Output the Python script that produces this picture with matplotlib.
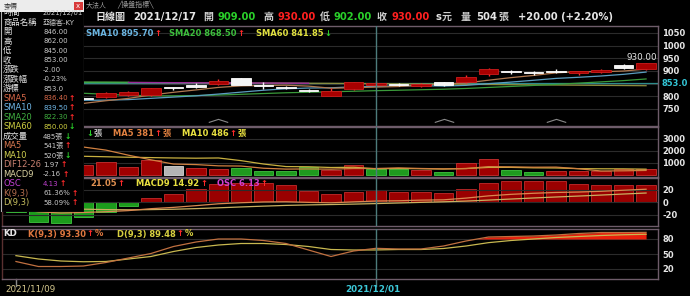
import numpy as np
import matplotlib
matplotlib.use('Agg')
import matplotlib.pyplot as plt
from matplotlib.patches import Rectangle

plt.rcParams['font.family'] = ['DejaVu Sans', 'Noto Sans CJK TC']

# 亞德客-KY 日線 2021/11/09 ~ 2021/12/17
dates = ['2021/11/09', '2021/11/10', '2021/11/11', '2021/11/12', '2021/11/15', '2021/11/16',
         '2021/11/17', '2021/11/18', '2021/11/19', '2021/11/22', '2021/11/23', '2021/11/24',
         '2021/11/25', '2021/11/26', '2021/11/29', '2021/11/30', '2021/12/01', '2021/12/02',
         '2021/12/03', '2021/12/06', '2021/12/07', '2021/12/08', '2021/12/09', '2021/12/10',
         '2021/12/13', '2021/12/14', '2021/12/15', '2021/12/16', '2021/12/17']
opens = [778, 772, 765, 795, 799, 805, 805, 835, 846, 849, 871, 846, 838, 826, 803,
         828, 846, 850, 842, 856, 856, 887, 901, 897, 901, 891, 896, 924, 909]
highs = [782, 776, 780, 798, 818, 820, 834, 838, 852, 867, 873, 858, 841, 829, 832,
         857, 862, 853, 853, 858, 884, 910, 904, 900, 907, 901, 906, 929, 930]
lows = [765, 760, 762, 786, 795, 803, 803, 824, 832, 845, 844, 830, 829, 816, 802,
        826, 845, 840, 838, 840, 854, 881, 888, 883, 893, 883, 893, 907, 902]
closes = [770, 765, 775, 791, 812, 816, 832, 832, 838, 862, 846, 840, 833, 820, 821,
          855, 853, 844, 848, 844, 875, 907, 895, 891, 895, 899, 904, 910, 930]

sma5 = [780, 775, 772, 772, 782.6, 791.8, 805.2, 815.8, 825.2, 835.2, 841.2, 842.8, 843.8,
        840.2, 832.0, 833.8, 836.4, 838.6, 844.2, 848.8, 852.8, 863.6, 873.8, 882.4, 892.6,
        897.4, 896.8, 899.8, 907.6]
sma10 = [795, 790, 786, 784, 785, 787, 792, 797, 802, 808.9, 816.5, 824.0, 829.8, 832.7,
         833.6, 837.5, 839.5, 841.2, 842.2, 840.4, 843.3, 850.0, 856.2, 863.3, 870.7, 875.1,
         880.2, 886.8, 895.7]
sma20 = [820, 818, 815, 812, 808, 804, 802, 802, 803, 805, 808, 811, 814, 816, 818, 820,
         822.3, 824, 826, 828, 831, 835, 839, 843, 847, 852, 857, 862, 868.5]
sma60 = [856, 855.8, 855.5, 855.2, 855, 854.6, 854.2, 853.8, 853.4, 853, 852.7, 852.4, 852,
         851.6, 851.2, 850.7, 850.0, 849.3, 848.6, 848, 847.3, 846.6, 845.9, 845.2, 844.5,
         843.8, 843.2, 842.5, 841.85]
signal_idx = [9, 19, 24]

volume = [2800, 3200, 2500, 810, 1060, 680, 1280, 730, 590, 540, 590, 370, 370, 650, 450,
          870, 485, 510, 400, 290, 1000, 1300, 400, 260, 330, 320, 360, 470, 504]
vol_ma5 = [2600, 2750, 2800, 2330, 2074, 1650, 1266, 912, 868, 764, 746, 564, 492, 504, 486,
           542, 541, 593, 543, 511, 537, 700, 678, 650, 658, 522, 334, 348, 381]
vol_ma10 = [1700, 1650, 1600, 1560, 1520, 1480, 1450, 1420, 1400, 1419, 1198, 915, 702, 686,
            625, 644, 520, 543, 524, 499, 540, 633, 636, 597, 585, 530, 517, 513, 486]

osc = [-3.4, -6.8, -7.2, -5.3, -3.4, -1.3, 1.5, 3.0, 4.8, 6.5, 6.8, 6.8, 5.9, 4.1, 2.8, 3.6,
       4.13, 3.6, 3.6, 3.2, 4.8, 6.8, 7.6, 7.6, 7.3, 6.5, 6.1, 6.1, 6.13]
dif = [-10.8, -15.5, -17.4, -16.5, -15.3, -13.5, -10.4, -8.3, -5.5, -2.5, -0.8, 0.5, 0.8,
       -0.2, -0.9, 0.6, 1.97, 2.4, 3.4, 3.9, 6.7, 10.3, 12.8, 14.5, 15.8, 16.5, 17.7, 19.4, 21.05]
macd9 = [-7.4, -8.7, -10.2, -11.2, -11.9, -12.2, -11.9, -11.3, -10.3, -9.0, -7.6, -6.3, -5.1,
         -4.3, -3.7, -3.0, -2.16, -1.2, -0.2, 0.7, 1.9, 3.5, 5.2, 6.9, 8.5, 10.0, 11.6, 13.3, 14.92]

k_val = [35, 25, 25, 26, 33, 42, 51, 65, 74, 80, 80, 77, 71, 58, 45, 56, 61.36, 60, 60, 66,
         76, 84, 85, 86, 88, 91, 93, 93, 93.30]
d_val = [46.7, 40, 36, 34.5, 35, 40, 45, 55, 63, 68, 71, 71, 69, 65, 59, 58, 58.09, 59, 59,
         61, 66, 72.7, 77, 80, 83, 85, 87, 88.5, 89.48]

# 查價視窗
box_labels = ['時間', '商品名稱', '開', '高', '低', '收', '漲跌', '漲跌幅', '游標', 'SMA5', 'SMA10',
              'SMA20', 'SMA60', '成交量', 'MA5', 'MA10', 'DIF12-26', 'MACD9', 'OSC', 'K(9,3)', 'D(9,3)']
box_values = ['2021/12/01', '亞德客-KY', '846.00', '862.00', '845.00', '853.00', '-2.00', '-0.23%',
              '853.0', '836.40', '839.50', '822.30', '850.00', '485張', '541張', '520張', '1.97',
              '-2.16', '4.13', '61.36%', '58.09%']
box_arrows = ['', '', '', '', '', '', '', '', '', '↑', '↑', '↑', '↓', '↓', '↑', '↓', '↑', '↑', '↑', '↑', '↑']

W, H = 690, 296
WHITE = '#e6e6e6'
RED = '#ff2a2a'
GREEN = '#2ad02a'
C_SMA5, C_SMA10, C_SMA20, C_SMA60 = '#b07850', '#5b9dc0', '#3a9a3a', '#8c8c3c'

fig = plt.figure(figsize=(6.9, 2.96), dpi=100, facecolor='black')


def rect(x0, y0, x1, y1):
    return [x0 / W, 1 - y1 / H, (x1 - x0) / W, (y1 - y0) / H]


x = np.arange(len(dates))
cursor = dates.index('2021/12/01')
XLIM = (-0.62, 28.53)


def style(ax, ylim, ticks, grid):
    ax.set_facecolor('black')
    ax.set_xlim(*XLIM)
    ax.set_ylim(*ylim)
    ax.set_xticks([])
    ax.yaxis.tick_right()
    ax.set_yticks(ticks)
    ax.set_yticklabels([str(t) for t in ticks], fontweight='bold')
    ax.tick_params(axis='y', length=0, pad=3, labelsize=6, labelcolor=WHITE)
    for g in grid:
        ax.axhline(g, color='#2b2b2b', lw=0.8, zorder=0)
    for s in ax.spines.values():
        s.set_color('#6e5c6a')
        s.set_linewidth(1)
    ax.spines['left'].set_color('#5a3030')
    ax.axvline(cursor, color='#4d7c7c', lw=1, zorder=6)


# ---- 價格 ----
ax_p = fig.add_axes(rect(2, 26, 658, 126))
style(ax_p, (682.8, 1077.6), [750, 800, 900, 950, 1000, 1050], [750, 800, 850, 900, 950, 1000, 1050])
ax_p.axhline(853, color='#2e8c8c', lw=0.9, zorder=1)
ax_p.plot(x, sma60, color=C_SMA60, lw=0.9, zorder=2)
ax_p.plot(x[:6], sma60[:6], color='#3fa84a', lw=1.2, zorder=2)
ax_p.plot(x[5:14], sma60[5:14], color='#9a2a9a', lw=1.0, zorder=2)
ax_p.plot(x, sma20, color=C_SMA20, lw=0.9, zorder=2)
ax_p.plot(x, sma10, color=C_SMA10, lw=0.9, zorder=2)
ax_p.plot(x, sma5, color=C_SMA5, lw=0.9, zorder=2)
for i in x:
    o, h, l, c = opens[i], highs[i], lows[i], closes[i]
    up = c >= o
    wick = RED if up else '#f4f4f4'
    ax_p.vlines(i, l, h, color=wick, lw=1, zorder=3)
    ax_p.add_patch(Rectangle((i - 0.44, min(o, c)), 0.88, max(abs(c - o), 1.2),
                             facecolor='#a80000' if up else '#f4f4f4',
                             edgecolor='#cc1c1c' if up else '#ffffff', lw=0.6, zorder=4))
ax_p.plot(signal_idx, [0.04] * len(signal_idx), transform=ax_p.get_xaxis_transform(),
          ls='none', marker=[(-1, 0), (0, 0.32), (1, 0)], markersize=14,
          mfc='none', mec='#8a8a8a', mew=0.8)
ax_p.annotate('930.00', xy=(x[-1], highs[-1]), xytext=(8, 1), textcoords='offset points',
              ha='right', va='bottom', color=WHITE, fontsize=6.3)

# ---- 成交量 ----
ax_v = fig.add_axes(rect(2, 127, 658, 176.5))
style(ax_v, (-125, 4000), [1000, 2000, 3000], [1000, 2000, 3000])
chg = np.sign(np.diff(np.r_[closes[0] - 1, closes]))
vfc = ['#a00000' if s > 0 else ('#1f9a1f' if s < 0 else '#b4b4b4') for s in chg]
vec = ['#c83030' if s > 0 else ('#40c440' if s < 0 else '#d8d8d8') for s in chg]
ax_v.bar(x, volume, width=0.88, color=vfc, edgecolor=vec, lw=0.6, zorder=2)
ax_v.plot(x, vol_ma10, color='#c8b040', lw=0.9, zorder=3)
ax_v.plot(x, vol_ma5, color='#d08040', lw=0.9, zorder=3)

# ---- MACD ----
ax_m = fig.add_axes(rect(2, 177.5, 658, 226))
ax_o = ax_m.twinx()
ax_o.set_ylim(-38.4 / 4.6, 40 / 4.6)
ax_o.set_yticks([])
for s in ax_o.spines.values():
    s.set_visible(False)
ax_o.set_facecolor('black')
ofc = ['#9a0000' if v > 0 else '#1c9c1c' for v in osc]
oec = ['#c42a2a' if v > 0 else '#40c440' for v in osc]
ax_o.bar(x, osc, width=0.88, color=ofc, edgecolor=oec, lw=0.6)
ax_m.set_zorder(ax_o.get_zorder() + 1)
style(ax_m, (-38.4, 40), [-20, 0, 20], [-20, 0, 20])
ax_m.patch.set_visible(False)
ax_m.plot(x, macd9, color='#c8b060', lw=0.9)
ax_m.plot(x, dif, color='#d88850', lw=0.9)

# ---- KD ----
ax_k = fig.add_axes(rect(2, 229, 658, 279))
style(ax_k, (0, 100), [20, 50, 80], [20, 50, 80])
kk = np.array(k_val)
ax_k.fill_between(x, kk, 80, where=kk > 80, interpolate=True, color='#e8200c', lw=0, zorder=2)
ax_k.plot(x, d_val, color='#c8b850', lw=0.9, zorder=3)
ax_k.plot(x, k_val, color='#c07040', lw=0.9, zorder=3)
ax_k.plot([0, 0], [0, -0.13], transform=ax_k.get_xaxis_transform(), color='#8a8a8a', lw=1, clip_on=False)
ax_k.plot([cursor, cursor], [0, -0.13], transform=ax_k.get_xaxis_transform(), color='#4d7c7c', lw=1, clip_on=False)

# ---- 文字層 ----
ov = fig.add_axes([0, 0, 1, 1], zorder=5)
ov.set_xlim(0, W)
ov.set_ylim(H, 0)
ov.axis('off')


def put(px, py, s, color, size=6, weight='bold', ha='left'):
    return ov.text(px, py, s, color=color, fontsize=size, fontweight=weight, ha=ha, va='center')


def chain(px, py, pieces, size=6):
    t = None
    for s, color in pieces:
        if t is None:
            t = put(px, py, s, color, size)
        else:
            t = ov.annotate(s, xy=(1, 0.5), xycoords=t, xytext=(0.6, 0), textcoords='offset points',
                            ha='left', va='center', color=color, fontsize=size, fontweight='bold')
    return t


put(86, 5, '大法人', '#9a9a9a', 5, 'normal')
put(117, 5, '╱操盤指標╲', '#9a9a9a', 5, 'normal')

header = [(95, '日線圖', WHITE), (133, '2021/12/17', WHITE), (203, '開', '#cfcfcf'),
          (218, '909.00', GREEN), (263, '高', '#cfcfcf'), (277, '930.00', '#ff2020'),
          (320, '低', '#cfcfcf'), (334, '902.00', GREEN), (377, '收', '#cfcfcf'),
          (391, '930.00', '#ff2020'), (436, 's', WHITE), (442, '元', '#cfcfcf'),
          (461, '量', '#cfcfcf'), (476, '504', WHITE), (498, '張', '#cfcfcf'),
          (518, '+20.00 (+2.20%)', WHITE)]
for px, s, c in header:
    put(px, 17, s, c, 7.2)

chain(86, 33, [('SMA10 895.70', '#6ab4e0'), ('↑', RED)])
chain(169, 33, [('SMA20 868.50', '#3cbc3c'), ('↑', RED)])
chain(256, 33, [('SMA60 841.85', '#e0e040'), ('↓', GREEN)])

chain(86, 133, [('↓', GREEN), ('張', '#bdbdbd')])
chain(113, 133, [('MA5 381', '#e08040'), ('↑', RED), ('張', '#e08040')])
chain(182, 133, [('MA10 486', '#e8e040'), ('↑', RED), ('張', '#e8e040')])

chain(90, 183, [('21.05', '#e09050'), ('↑', RED)])
chain(136, 183, [('MACD9 14.92', '#e8e040'), ('↑', RED)])
chain(217, 183, [('OSC 6.13', '#d040d0'), ('↑', RED)])

put(3, 234, 'KD', WHITE, 6.3)
chain(28, 234, [('K(9,3) 93.30', '#e07840'), ('↑', RED), ('%', '#e07840')])
chain(117, 234, [('D(9,3) 89.48', '#d8d040'), ('↑', RED), ('%', '#d8d040')])

put(662, 83, '853.0', '#33c6d6', 6)
put(5, 289, '2021/11/09', '#d6c98e', 6.3, 'normal')
put(345, 289, '2021/12/01', '#3cc8d8', 6.3)

# ---- 查價視窗 ----
bx = fig.add_axes(rect(0, 0, 84, 212), zorder=10)
bx.set_xlim(0, 84)
bx.set_ylim(212, 0)
bx.axis('off')
bx.add_patch(Rectangle((0.5, 0.5), 83, 211, facecolor='black', edgecolor='#b0b0b0', lw=0.8))
bx.add_patch(Rectangle((0, 0), 84, 11.5, facecolor='#ececec', edgecolor='none'))
bx.add_patch(Rectangle((73.5, 1.5), 9, 8.5, facecolor='#d83a3a', edgecolor='none'))
bx.text(78, 5.8, 'x', color='white', fontsize=5, ha='center', va='center')
bx.text(4, 6, '查價', color='#303030', fontsize=5, va='center')

lab_colors = [WHITE] * 9 + ['#d86848', '#70b8e8', '#40b040', '#d0d040', WHITE, '#d87850',
                            '#d0d050', '#c88070', '#d8d0a0', '#c040d0', '#b87050', '#c8c060']
val_colors = ['#c8c8c8'] * 9 + ['#d86848', '#70b8e8', '#40b040', '#d0d040'] + ['#c8c8c8'] * 5 + \
             ['#c040d0', '#c8c8c8', '#c8c8c8']
for r, (lab, val, arr) in enumerate(zip(box_labels, box_values, box_arrows)):
    yy = 12.7 + 9.5 * r
    bx.text(3, yy, lab, color=lab_colors[r], fontsize=6, va='center')
    t = bx.text(43, yy, val, color=val_colors[r], fontsize=5, va='center')
    if arr:
        bx.annotate(arr, xy=(1, 0.5), xycoords=t, xytext=(1, 0), textcoords='offset points',
                    ha='left', va='center', fontsize=5.5, fontweight='bold',
                    color=RED if arr == '↑' else GREEN)

fig.savefig('out.png', dpi=100, facecolor='black')
